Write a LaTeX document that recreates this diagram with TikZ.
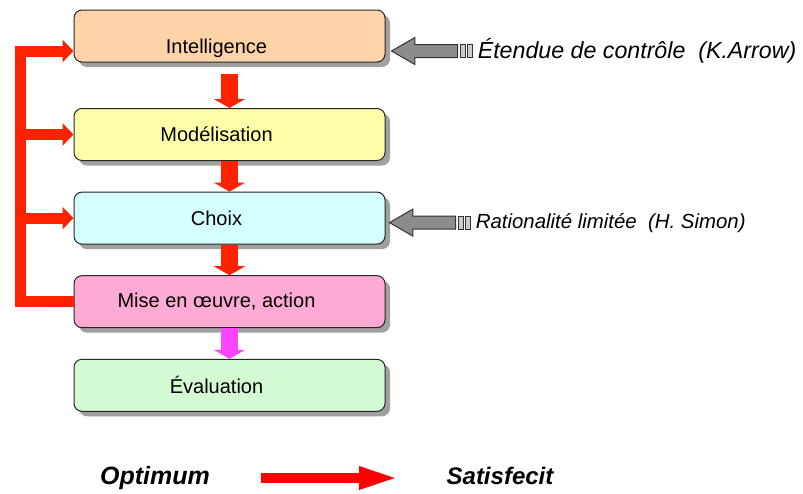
\documentclass[tikz,border=0pt]{standalone}
\usepackage{fontspec}
\setmainfont{Liberation Sans}
\usetikzlibrary{shapes,arrows.meta}
\usetikzlibrary{positioning}
\usetikzlibrary{shadows}
\definecolor{peach}{RGB}{255,211,168}
\definecolor{paleyellow}{RGB}{255,255,170}
\definecolor{palecyan}{RGB}{212,255,255}
\definecolor{rosy}{RGB}{255,170,212}
\definecolor{palegreen}{RGB}{212,250,212}
\definecolor{flame}{RGB}{255,34,0}
\definecolor{fuchsia}{RGB}{255,68,255}
\tikzstyle{stage} = [rectangle, draw=black!85, line width=0.5pt,
    rounded corners=4pt, minimum width=155.5pt, minimum height=26pt,
    font=\fontsize{10}{12}\selectfont,
    execute at begin node={\hspace*{-13pt}},
    drop shadow={shadow xshift=2.5pt, shadow yshift=-2.5pt, opacity=0.75}]
\tikzstyle{flow} = [draw=flame, line width=8.5pt,
    -{Triangle[width=15.5pt,length=4.5pt]}]
\tikzstyle{feedback} = [draw=flame, line width=5.5pt, line join=miter]
\tikzstyle{feedin} = [feedback, -{Triangle[width=11pt,length=5.5pt]}]
\tikzstyle{hint} = [single arrow, shape border rotate=180,
    draw=black!80, fill=black!45, line width=0.5pt,
    inner sep=0pt, inner ysep=3pt, minimum height=33pt, minimum width=13pt,
    single arrow head extend=3.5pt, single arrow tip angle=60]
\tikzstyle{tick} = [rectangle, draw=black!80, fill=black!20, line width=0.4pt,
    inner sep=0pt, minimum width=2.5pt, minimum height=6.5pt]
\tikzstyle{note} = [inner sep=0pt, font=\fontsize{10.2}{12}\selectfont\itshape]
\tikzstyle{slogan} = [inner sep=0pt, text height=9pt, text depth=2.5pt,
    font=\fontsize{12.5}{14}\selectfont\bfseries\itshape]
\tikzstyle{tradeoff} = [draw=red, line width=5pt,
    -{Triangle[width=10pt,length=20.5pt]}]
\begin{document}
\begin{tikzpicture}
  \useasboundingbox (0,0) rectangle (401.5pt,-246.5pt);
  % Place nodes
  \node [stage, fill=peach, text height=17pt, text depth=0pt, inner ysep=0pt]
        (intel) at (114.75pt,-18pt) {Intelligence};
  \node [stage, fill=paleyellow, below=22.75pt of intel] (model) {Modélisation};
  \node [stage, fill=palecyan, below=15.3pt of model] (choix) {Choix};
  \node [stage, fill=rosy, below=15.3pt of choix] (mise) {Mise en œuvre, action};
  \node [stage, fill=palegreen, below=15.3pt of mise] (eval) {Évaluation};

  \node [hint, anchor=tip] (hintA) at ([xshift=2.5pt,yshift=-7.5pt]intel.east) {};
  \node [tick, right=0.8pt of hintA.tail] (tickA1) {};
  \node [tick, right=0.6pt of tickA1] (tickA2) {};
  \node [note, font=\fontsize{11.6}{14}\selectfont\itshape, right=2.5pt of tickA2]
        (arrow) {Étendue de contrôle\ \ (K.Arrow)};

  \node [hint, anchor=tip] (hintB) at ([xshift=1.5pt,yshift=-2.25pt]choix.east) {};
  \node [tick, right=0.8pt of hintB.tail] (tickB1) {};
  \node [tick, right=0.6pt of tickB1] (tickB2) {};
  \node [note, right=2.5pt of tickB2] (simon) {Rationalité limitée\ \ (H. Simon)};

  \node [slogan] (optimum) at (77.5pt,-239pt) {Optimum};
  \node [slogan, font=\fontsize{12}{14}\selectfont\bfseries\itshape]
        (satisf) at (250pt,-239pt) {Satisfecit};

  \coordinate (corner) at ([xshift=-26.5pt]mise.west);

  % paths
  \path [flow, shorten <=5.5pt] (intel) -- (model);
  \path [flow] (model) -- (choix);
  \path [flow] (choix) -- (mise);
  \path [flow, draw=fuchsia] (mise) -- (eval);

  \path [feedin] (mise.west) -- (corner) |- ([yshift=-7.5pt]intel.west);
  \path [feedin] (corner |- model.west) -- (model.west);
  \path [feedin] (corner |- choix.west) -- (choix.west);

  \path [tradeoff, shorten <=25.5pt, shorten >=23pt] (optimum) -- (satisf);
\end{tikzpicture}
\end{document}
